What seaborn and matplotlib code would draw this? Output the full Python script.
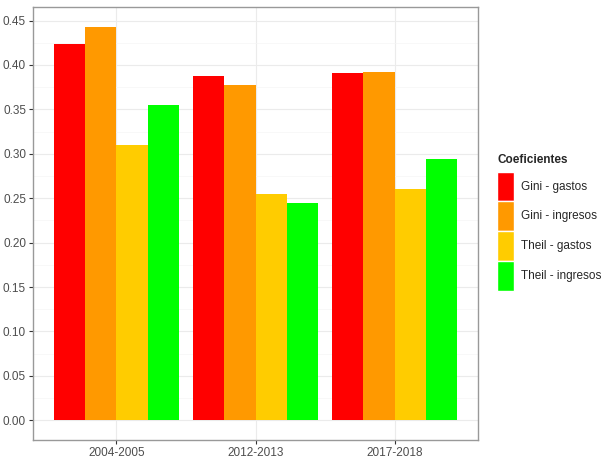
import numpy as np
import pandas as pd
import seaborn as sns
import matplotlib
matplotlib.use('Agg')
import matplotlib.pyplot as plt
from matplotlib.ticker import MultipleLocator

# datos
periodos = ["2004-2005", "2012-2013", "2017-2018"]
coeficientes = ["Gini - gastos", "Gini - ingresos", "Theil - gastos", "Theil - ingresos"]
gini_gastos = [0.424, 0.387, 0.391]
gini_ingresos = [0.443, 0.377, 0.392]
theil_gastos = [0.310, 0.255, 0.260]
theil_ingresos = [0.355, 0.245, 0.294]
colores = ["#FF0000", "#FF9900", "#FFCC00", "#00FF00"]

series = [gini_gastos, gini_ingresos, theil_gastos, theil_ingresos]
filas = []
for nombre, valores in zip(coeficientes, series):
    for p, v in zip(periodos, valores):
        filas.append({"Periodo": p, "Coeficientes": nombre, "valor": v})
df = pd.DataFrame(filas)

sns.set_theme(style="white")
plt.rcParams['font.family'] = ['Liberation Sans', 'DejaVu Sans']

fig = plt.figure(figsize=(6.06, 4.61), dpi=100)
ax = fig.add_axes([33/606, 1 - 440/461, (478-33)/606, (440-7)/461])

sns.barplot(data=df, x="Periodo", y="valor", hue="Coeficientes",
            hue_order=coeficientes, palette=colores, width=0.9,
            saturation=1, ax=ax, legend=False, linewidth=0)

ax.set_xlim(-0.6, 2.6)
ax.set_ylim(-0.0222, 0.4652)
ax.yaxis.set_minor_locator(MultipleLocator(0.025))
ticks = np.arange(0, 0.451, 0.05)
ax.set_yticks(ticks)
ax.set_yticklabels([f"{t:.2f}" for t in ticks])
ax.set_xlabel("")
ax.set_ylabel("")

ax.set_axisbelow(True)
ax.grid(which="major", color="#EBEBEB", linewidth=0.8)
ax.grid(which="minor", axis="y", color="#F5F5F5", linewidth=0.5)
for s in ax.spines.values():
    s.set_color("#999999")
    s.set_linewidth(1.0)
ax.tick_params(axis="both", which="major", direction="out", length=3,
               width=0.8, color="#333333", labelsize=8.5, labelcolor="#4D4D4D",
               left=True, bottom=True, pad=2)
ax.tick_params(axis="y", which="minor", length=0)

handles = [plt.Rectangle((0, 0), 1, 1, facecolor=c, edgecolor="white", linewidth=1)
           for c in colores]
leg = fig.legend(handles, coeficientes, title="Coeficientes",
                 loc="upper left", bbox_to_anchor=(497/606, 1 - 154/461),
                 frameon=False, fontsize=8.5, title_fontsize=8.5,
                 handlelength=1.44, handleheight=3.5, labelspacing=0.0,
                 handletextpad=0.6, borderaxespad=0, borderpad=0)
leg.get_title().set_fontweight("bold")
leg._legend_box.align = "left"
leg._legend_box.sep = 4

fig.savefig("out.png", dpi=100)
